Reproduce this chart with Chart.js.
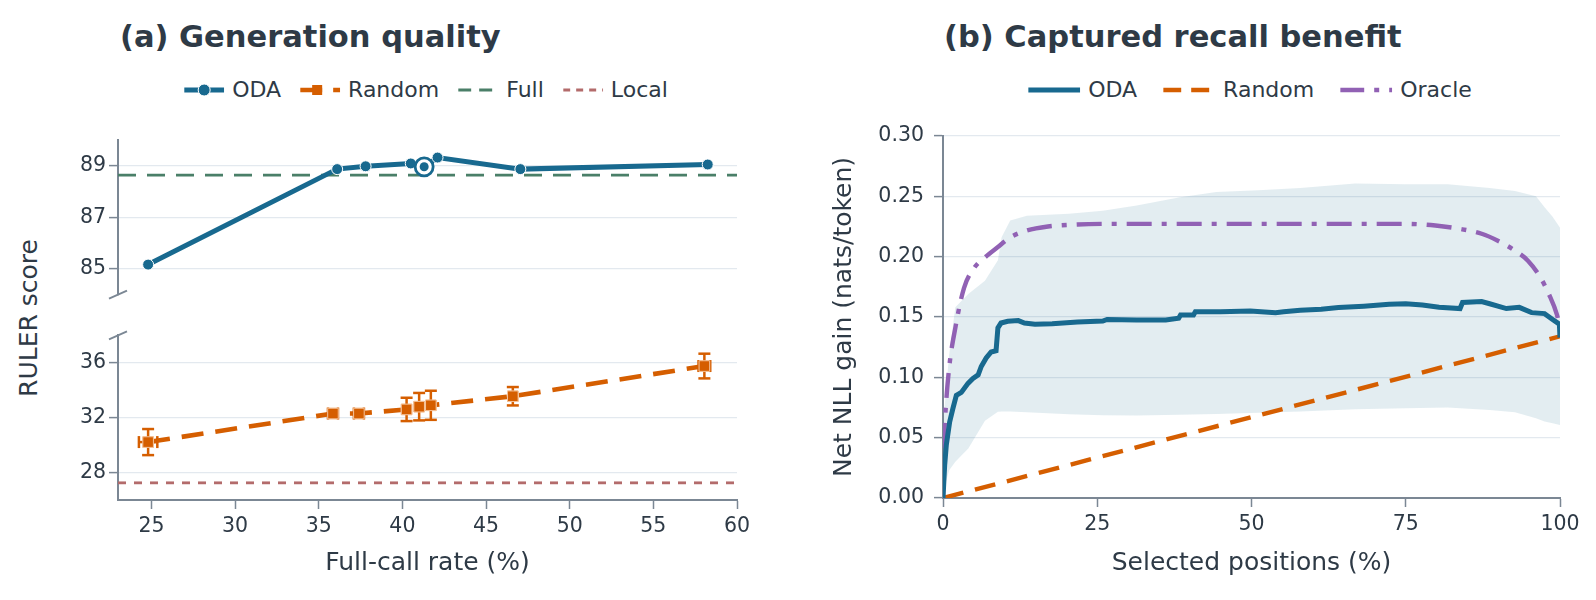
<!DOCTYPE html>
<html>
<head>
<meta charset="utf-8">
<title>Generation quality and captured recall benefit</title>
<script src="https://cdn.jsdelivr.net/npm/chart.js@4.4.1/dist/chart.umd.min.js"></script>
<style>
  body { margin: 0; background: #fff; font-family: "DejaVu Sans", sans-serif; color: #2e3a46; }
  #page { position: relative; width: 1596px; height: 600px; overflow: hidden; background: #fff; }
  canvas { position: absolute; }
  .title { position: absolute; font-weight: bold; font-size: 30.5px; line-height: 30px; white-space: nowrap; }
  .ylab { position: absolute; font-size: 25px; line-height: 25px; white-space: nowrap;
          transform: translate(-50%, -50%) rotate(-90deg); }
  .legend { position: absolute; display: flex; align-items: center; font-size: 22px; line-height: 22px;
            white-space: nowrap; transform: translate(-50%, -50%); }
  .legend .item { display: flex; align-items: center; }
  .legend svg { margin-right: 8px; }
</style>
</head>
<body>
<div id="page">
  <div class="title" style="left:120px; top:22px;">(a) Generation quality</div>
  <div class="title" style="left:944px; top:22px;">(b) Captured recall benefit</div>
  <div class="legend" id="legendA" style="left:426px; top:90px; gap:19px;"></div>
  <div class="legend" id="legendB" style="left:1250px; top:90px; gap:26px;"></div>
  <div class="ylab" style="left:28px; top:318px;">RULER score</div>
  <canvas id="topChart" width="760" height="185" style="left:0; top:125px;"></canvas>
  <canvas id="bottomChart" width="760" height="280" style="left:0; top:320px;"></canvas>
  <canvas id="recallChart" width="796" height="490" style="left:800px; top:110px;"></canvas>
</div>
<script>
// ---- (a) generation quality ----
const rateMin = 23, rateMax = 60;
const rateTicks = [25, 30, 35, 40, 45, 50, 55, 60];
const highTicks = [85, 87, 89];
const lowTicks = [28, 32, 36];

const odaRate = [24.8, 36.1, 37.8, 40.5, 41.3, 42.1, 47.05, 58.25];
const odaScore = [85.17, 88.88, 88.99, 89.1, 88.97, 89.33, 88.88, 89.06];
const selectedRate = [41.3];
const selectedScore = [88.97];

const randRate = [24.8, 35.85, 37.4, 40.25, 41.0, 41.7, 46.6, 58.05];
const randScore = [30.22, 32.3, 32.3, 32.6, 32.8, 32.9, 33.56, 35.76];
const randErrY = [0.95, 0.12, 0.12, 0.85, 1.0, 1.06, 0.67, 0.9];
const randErrX = [0.55, 0.3, 0.3, 0, 0, 0, 0, 0.35];

const fullScore = 88.65;
const localScore = 27.25;

// ---- (b) captured recall benefit ----
const posTicks = [0, 25, 50, 75, 100];
const gainTicks = [0, 0.05, 0.1, 0.15, 0.2, 0.25, 0.3];

const odaPos = [0, 0.27, 0.54, 1.08, 1.6, 2.16, 2.97, 4.05, 4.86, 5.7, 6.2, 7.0, 7.8, 8.6, 8.9, 9.4,
  10.5, 12.2, 13.2, 14.9, 17.7, 21.8, 25.9, 26.6, 31.4, 36.1, 38.2, 38.5, 40.6, 40.9, 45, 49.8,
  53.9, 55.2, 57.9, 61.3, 64.1, 68.2, 72.3, 75, 77.7, 80.4, 83.8, 84.2, 87.3, 88.6, 91.3, 93.4,
  95.4, 97.5, 98.8, 99.9, 100];
const odaGain = [0, 0.027, 0.044, 0.063, 0.074, 0.085, 0.0875, 0.095, 0.099, 0.102, 0.109, 0.116,
  0.121, 0.122, 0.141, 0.145, 0.1465, 0.147, 0.145, 0.144, 0.1444, 0.1458, 0.1467, 0.148, 0.1475,
  0.1475, 0.149, 0.1517, 0.1517, 0.1544, 0.1544, 0.155, 0.1536, 0.1544, 0.1556, 0.1564, 0.1578,
  0.159, 0.1606, 0.161, 0.16, 0.158, 0.157, 0.162, 0.1628, 0.161, 0.157, 0.158, 0.1536, 0.1528,
  0.148, 0.144, 0.133];

const bandPos = [0, 1, 2, 4.1, 6.8, 8.9, 9.5, 10.9, 13.6, 20.4, 25.9, 31.4, 38.2, 44.3, 51.1,
  57.9, 66.8, 75, 81.8, 88.6, 92.7, 96.1, 97.5, 98.8, 100];
const bandHigh = [0.06, 0.119, 0.158, 0.169, 0.18, 0.197, 0.216, 0.23, 0.234, 0.2356, 0.238,
  0.2425, 0.249, 0.2536, 0.255, 0.257, 0.2606, 0.26, 0.26, 0.257, 0.2544, 0.25, 0.241, 0.233, 0.224];
const bandLow = [0.005, 0.023, 0.03, 0.041, 0.064, 0.0715, 0.0717, 0.0717, 0.0711, 0.0694, 0.0685,
  0.0684, 0.0689, 0.0697, 0.0706, 0.0717, 0.0736, 0.0744, 0.075, 0.073, 0.071, 0.066, 0.0633, 0.062, 0.0606];

const oraclePos = [0, 0.15, 0.34, 1.0, 2.0, 3.4, 5.1, 6.8, 8.9, 10.9, 13.6, 17, 21.8, 27.3, 40, 60,
  75, 79.8, 83.8, 87.3, 90, 92.7, 94.8, 96.8, 98.2, 99.5, 100];
const oracleGain = [0, 0.045, 0.066, 0.108, 0.141, 0.174, 0.191, 0.1994, 0.208, 0.216, 0.2217,
  0.225, 0.2267, 0.2272, 0.2272, 0.2272, 0.2272, 0.2258, 0.223, 0.219, 0.213, 0.205, 0.1967,
  0.183, 0.169, 0.152, 0.141];

const randomPos = [0, 100];
const randomGain = [0, 0.134];

// colours
const ink = '#2e3a46';
const spine = '#7b8794';
const gridColor = '#e3e9ef';
const blue = '#18698f';
const orange = '#d55e00';
const green = '#4a7f68';
const rose = '#b36b6b';
const purple = '#9161b4';

Chart.defaults.font.family = '"DejaVu Sans", sans-serif';
Chart.defaults.color = ink;
Chart.defaults.animation = false;

const pts = (xs, ys) => xs.map((x, i) => ({x: x, y: ys[i]}));
const tickFont = {size: 20.5};
const labelFont = {size: 25};

// small break marks on the y spine
const breakMarks = {
    id: 'breakMarks',
    afterDraw(chart, args, opts) {
        if (!opts.edge) return;
        const {ctx, chartArea} = chart;
        const y = opts.edge === 'bottom' ? chartArea.bottom : chartArea.top;
        const x = chartArea.left;
        ctx.save();
        ctx.strokeStyle = spine;
        ctx.lineWidth = 2;
        ctx.beginPath();
        ctx.moveTo(x - 9, y + 4);
        ctx.lineTo(x + 9, y - 4);
        ctx.stroke();
        ctx.restore();
    }
};

// error bars for datasets that carry errY / errX
const errorBars = {
    id: 'errorBars',
    afterDatasetsDraw(chart) {
        const {ctx} = chart;
        const xs = chart.scales.x, ys = chart.scales.y;
        chart.data.datasets.forEach((ds, i) => {
            if (!ds.errY) return;
            ctx.save();
            ctx.strokeStyle = ds.errColor;
            ctx.lineWidth = 2.5;
            const seg = (a, b, c, d) => { ctx.beginPath(); ctx.moveTo(a, b); ctx.lineTo(c, d); ctx.stroke(); };
            ds.data.forEach((p, j) => {
                const px = xs.getPixelForValue(p.x), py = ys.getPixelForValue(p.y);
                const dy = ds.errY[j], dx = ds.errX[j];
                if (dy > 0) {
                    const y0 = ys.getPixelForValue(p.y - dy), y1 = ys.getPixelForValue(p.y + dy);
                    seg(px, y0, px, y1);
                    seg(px - 6, y0, px + 6, y0);
                    seg(px - 6, y1, px + 6, y1);
                }
                if (dx > 0) {
                    const x0 = xs.getPixelForValue(p.x - dx), x1 = xs.getPixelForValue(p.x + dx);
                    seg(x0, py, x1, py);
                    seg(x0, py - 6, x0, py + 6);
                    seg(x1, py - 6, x1, py + 6);
                }
            });
            ctx.restore();
            // markers back on top of the bars
            chart.getDatasetMeta(i).data.forEach(el => el.draw(ctx, chart.chartArea));
        });
    }
};

Chart.register(breakMarks, errorBars);

function yAxis(min, max, ticks, width, pad) {
    return {
        type: 'linear', min: min, max: max,
        afterBuildTicks: s => { s.ticks = ticks.map(v => ({value: v})); },
        afterFit: s => { s.width = width; },
        grid: {color: gridColor, lineWidth: 1.2, tickColor: spine, tickLength: 9, tickWidth: 1.5},
        border: {color: spine, width: 2},
        ticks: {font: tickFont, color: ink, padding: pad}
    };
}

function xAxis(min, max, ticks, height, title) {
    return {
        type: 'linear', min: min, max: max, display: height > 0,
        afterBuildTicks: s => { s.ticks = ticks.map(v => ({value: v})); },
        afterFit: s => { s.height = height; },
        grid: {drawOnChartArea: false, tickColor: spine, tickLength: 9, tickWidth: 1.5},
        border: {color: spine, width: 2},
        ticks: {font: tickFont, color: ink, padding: 5, maxRotation: 0},
        title: {display: !!title, text: title, font: labelFont, color: ink, padding: {bottom: 22}}
    };
}

const basePlugins = {legend: {display: false}, tooltip: {enabled: false}};

// top part of the broken axis: ODA and Full
new Chart(document.getElementById('topChart'), {
    type: 'line',
    data: {
        datasets: [
            {label: 'selected', data: pts(selectedRate, selectedScore), showLine: false,
             pointRadius: 4.5, pointBackgroundColor: blue, pointBorderWidth: 0},
            {label: 'selected ring', data: pts(selectedRate, selectedScore), showLine: false,
             pointRadius: 9, pointBackgroundColor: '#fff', pointBorderColor: blue, pointBorderWidth: 2.8},
            {label: 'ODA', data: pts(odaRate, odaScore), borderColor: blue, borderWidth: 5,
             pointRadius: 5.5, pointBackgroundColor: blue, pointBorderColor: '#fff', pointBorderWidth: 1},
            {label: 'Full', data: pts([rateMin, rateMax], [fullScore, fullScore]), borderColor: green,
             borderWidth: 2.8, borderDash: [18, 11], pointRadius: 0}
        ]
    },
    options: {
        responsive: false,
        layout: {padding: {top: 10, right: 23, bottom: 5, left: 0}},
        scales: {x: xAxis(rateMin, rateMax, rateTicks, 0, ''), y: yAxis(84, 90, highTicks, 118, 3)},
        plugins: Object.assign({breakMarks: {edge: 'bottom'}}, basePlugins)
    }
});

// bottom part of the broken axis: Random and Local
new Chart(document.getElementById('bottomChart'), {
    type: 'line',
    data: {
        datasets: [
            {label: 'Random', data: pts(randRate, randScore), borderColor: orange, borderWidth: 4.6,
             borderDash: [22, 12], pointStyle: 'rect', pointRadius: 7.5, pointBackgroundColor: orange,
             pointBorderColor: '#f5c49c', pointBorderWidth: 1, errY: randErrY, errX: randErrX, errColor: orange},
            {label: 'Local', data: pts([rateMin, rateMax], [localScore, localScore]), borderColor: rose,
             borderWidth: 2.8, borderDash: [8, 8], pointRadius: 0}
        ]
    },
    options: {
        responsive: false,
        layout: {padding: {top: 10, right: 23, bottom: 0, left: 0}},
        scales: {
            x: xAxis(rateMin, rateMax, rateTicks, 100, 'Full-call rate (%)'),
            y: yAxis(26, 38, lowTicks, 118, 3)
        },
        plugins: Object.assign({breakMarks: {edge: 'top'}}, basePlugins)
    }
});

// (b) captured recall benefit
const recallY = yAxis(0, 0.3, gainTicks, 143, 10);
recallY.ticks.callback = v => v.toFixed(2);
recallY.title = {display: true, text: 'Net NLL gain (nats/token)', font: labelFont, color: ink, padding: {top: 29}};
new Chart(document.getElementById('recallChart'), {
    type: 'line',
    data: {
        datasets: [
            {label: 'ODA', data: pts(odaPos, odaGain), borderColor: blue, borderWidth: 5, pointRadius: 0},
            {label: 'Oracle', data: pts(oraclePos, oracleGain), borderColor: purple, borderWidth: 4.4,
             borderDash: [25, 10, 5, 10], pointRadius: 0, cubicInterpolationMode: 'monotone', tension: 0.4},
            {label: 'Random', data: pts(randomPos, randomGain), borderColor: orange, borderWidth: 4.4,
             borderDash: [21, 12], pointRadius: 0},
            {label: 'band high', data: pts(bandPos, bandHigh), borderWidth: 0, pointRadius: 0,
             fill: '+1', backgroundColor: 'rgba(24,105,143,0.12)'},
            {label: 'band low', data: pts(bandPos, bandLow), borderWidth: 0, pointRadius: 0, fill: false}
        ]
    },
    options: {
        responsive: false,
        layout: {padding: {top: 26, right: 36, bottom: 0, left: 0}},
        scales: {x: xAxis(0, 100, posTicks, 102, 'Selected positions (%)'), y: recallY},
        plugins: Object.assign({filler: {drawTime: 'beforeDatasetsDraw'}}, basePlugins)
    }
});

// legends
function symbol(w, stroke, dash, width, marker) {
    let s = `<svg width="${w}" height="16" viewBox="0 0 ${w} 16"><line x1="0" y1="8" x2="${w}" y2="8" stroke="${stroke}" stroke-width="${width}"` +
        (dash ? ` stroke-dasharray="${dash}"` : '') + '/>';
    if (marker === 'circle') s += `<circle cx="${w / 2}" cy="8" r="6" fill="${stroke}" stroke="#fff" stroke-width="1"/>`;
    if (marker === 'rect') s += `<rect x="${w / 2 - 8}" y="3" width="10" height="10" fill="${stroke}"/>`;
    return s + '</svg>';
}
function legend(id, items) {
    document.getElementById(id).innerHTML = items.map(it =>
        `<div class="item">${it.svg}<span>${it.label}</span></div>`).join('');
}
legend('legendA', [
    {label: 'ODA', svg: symbol(40, blue, '', 5, 'circle')},
    {label: 'Random', svg: symbol(40, orange, '22 11', 4.5, 'rect')},
    {label: 'Full', svg: symbol(40, green, '13 8', 3, '')},
    {label: 'Local', svg: symbol(40, rose, '7 6', 3, '')}
]);
legend('legendB', [
    {label: 'ODA', svg: symbol(52, blue, '', 5, '')},
    {label: 'Random', svg: symbol(52, orange, '18 10', 4.5, '')},
    {label: 'Oracle', svg: symbol(52, purple, '24 10 5 10', 4.5, '')}
]);
</script>
</body>
</html>
